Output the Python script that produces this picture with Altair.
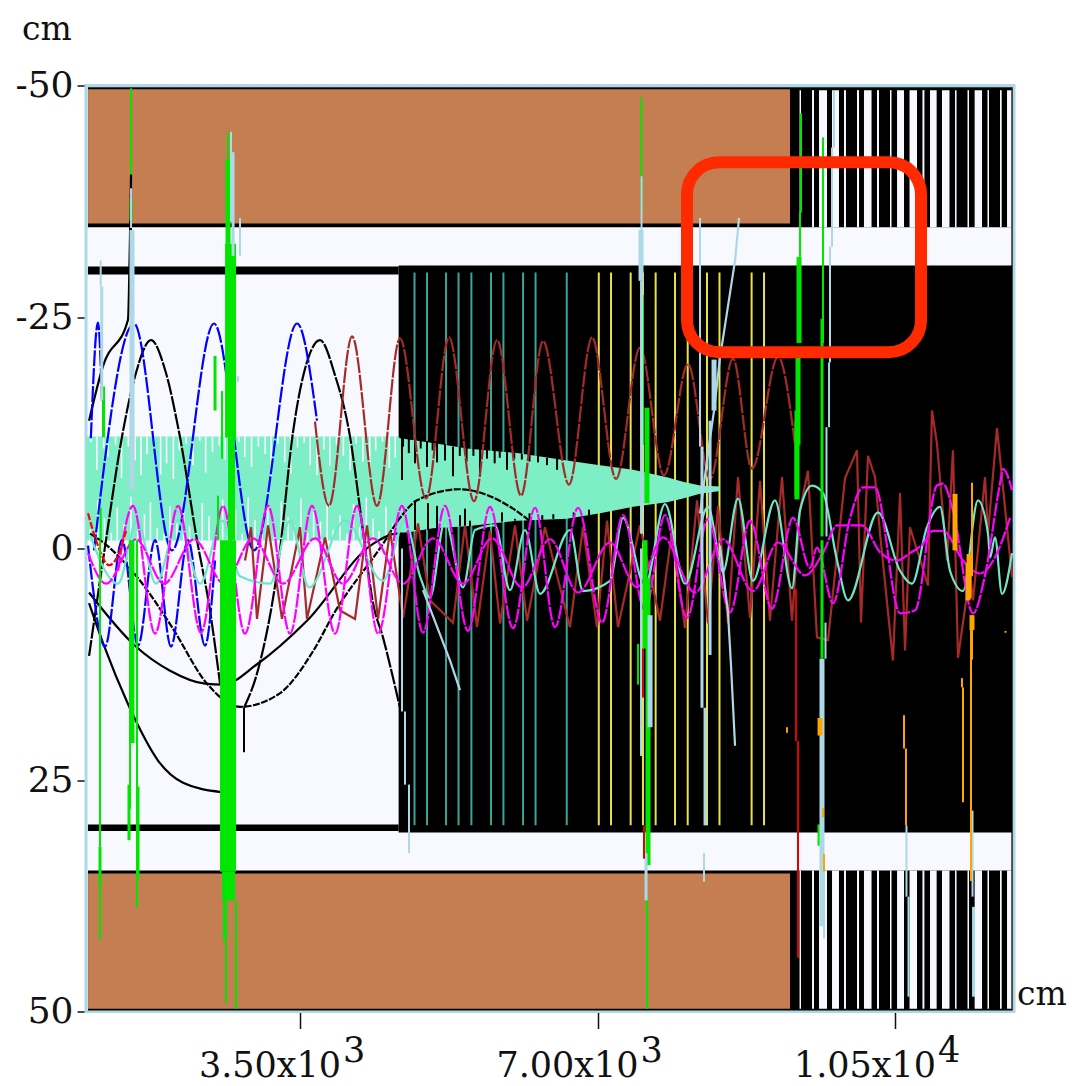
import altair as alt
import pandas as pd

X_DOMAIN = [982, 11900]
Y_DOMAIN = [-50, 50]
X_TICKS = [3500, 7000, 10500]
Y_TICKS = [-50, -25, 0, 25, 50]
TICK_MANTISSA = ["3.50x10", "7.00x10", "1.05x10"]
TICK_EXP = ["3", "3", "4"]

WHITE_GAPS_X0 = [9377, 9524, 9606, 9759, 9900, 10053, 10135, 10288, 10441, 10524, 10671, 10823, 10912, 11053, 11206, 11353, 11437, 11588, 11735, 11818]
WHITE_GAPS_X1 = [9394, 9547, 9700, 9841, 9923, 10077, 10224, 10312, 10459, 10606, 10759, 10846, 10990, 11141, 11224, 11371, 11524, 11606, 11755, 11877]

TEAL_X = [4847, 4994, 5218, 5365, 5516, 5747, 5893, 6124, 6271, 6638]
YELLOW_X = [7015, 7159, 7390, 7535, 7684, 7912, 8061, 8288, 8435, 8813, 8959]

BAND_X = [982, 4653, 4676, 5065, 5465, 6053, 6641, 7029, 7418, 7618, 7818, 8006, 8206, 8441]
BAND_TOP = [-12.1, -12.1, -11.9, -11.4, -10.8, -10.3, -9.5, -9.0, -8.5, -8.1, -7.7, -7.2, -6.8, -6.7]
BAND_BOT = [-0.86, -0.86, -1.6, -2.2, -2.4, -3.0, -3.2, -3.8, -4.5, -4.75, -5.0, -5.4, -5.9, -6.2]

COMB_TOP_X = [1040, 1110, 1190, 1240, 1330, 1400, 1480, 1560, 1630, 1700, 1780, 1860, 1930, 2010, 2080, 2160, 2240, 2320, 2390, 2470, 2550, 2620, 2700, 2780, 2850, 2930, 3010, 3090, 3160, 3240, 3320, 3390, 3470, 3550, 3620, 3700, 3780, 3850, 3930, 4010, 4090, 4160, 4240, 4320, 4390, 4470, 4550, 4620]
COMB_TOP_END = [-11.5, -8.5, -10.8, -9.9, -11.2, -7.6, -11.0, -9.5, -7.9, -10.2, -11.4, -8.0, -9.2, -7.5, -10.6, -11.3, -9.0, -11.6, -8.2, -10.4, -11.1, -9.6, -7.8, -11.5, -9.9, -8.8, -11.0, -10.2, -7.7, -11.3, -9.3, -8.1, -10.9, -11.4, -9.0, -7.9, -10.7, -8.9, -11.2, -10.0, -8.4, -11.3, -9.4, -7.6, -10.6, -11.5, -8.7, -9.8]
COMB_BOT_X = [1030, 1120, 1200, 1280, 1350, 1430, 1510, 1590, 1670, 1740, 1820, 1900, 1970, 2050, 2130, 2200, 2280, 2350, 2430, 2510, 2590, 2660, 2740, 2820, 2890, 2970, 3050, 3120, 3200, 3280, 3360, 3430, 3510, 3590, 3660, 3740, 3820, 3890, 3970, 4050, 4130, 4200, 4280, 4360, 4430, 4510, 4590]
COMB_BOT_END = [-2.1, -5.2, -3.3, -1.7, -4.4, -2.6, -5.6, -1.9, -3.7, -5.0, -2.2, -1.6, -4.6, -3.0, -5.4, -2.4, -1.7, -4.9, -3.5, -1.9, -5.3, -2.8, -4.2, -1.6, -5.5, -3.1, -2.2, -4.7, -1.8, -5.1, -3.4, -2.5, -5.4, -1.7, -4.0, -2.9, -5.2, -2.0, -3.6, -1.6, -4.8, -2.3, -5.5, -3.2, -1.9, -4.5, -2.7]

TOOTH_T_X = [4700, 4712, 4780, 4853, 4920, 4994, 5060, 5112, 5206, 5300, 5380, 5460, 5540, 5618, 5700, 5790, 5850, 5935, 6020, 6110, 6200, 6300, 6406, 6524]
TOOTH_T_Y0 = [-12.0, -12.0, -11.9, -11.8, -11.7, -11.6, -11.5, -11.4, -11.3, -11.0, -11.0, -10.9, -10.8, -10.8, -10.7, -10.6, -10.5, -10.4, -10.3, -10.2, -10.1, -10.0, -9.8, -9.7]
TOOTH_T_Y1 = [-7.4, -11.0, -10.3, -9.2, -10.8, -8.8, -10.6, -9.3, -9.5, -7.8, -10.0, -9.4, -10.0, -7.8, -9.7, -9.2, -9.8, -8.5, -9.7, -9.6, -9.4, -9.3, -9.0, -8.5]
TOOTH_B_X = [4853, 5006, 5112, 5382, 5441, 5500, 5876, 6029, 6200, 6350, 6480, 6720, 6900]
TOOTH_B_Y0 = [-5.2, -4.9, -4.6, -3.6, -4.3, -3.0, -3.9, -3.2, -3.8, -3.6, -3.7, -3.9, -4.2]
TOOTH_B_Y1 = [-2.0, -2.0, -2.0, -2.4, -2.4, -2.4, -2.9, -3.0, -3.0, -3.1, -3.2, -3.3, -3.6]

K1_X = [1018, 1559, 1971, 2382, 2594, 2994, 3582, 4359, 4641, 4829]
K1_Y = [4.75, 10.5, 13.2, 14.6, 14.7, 12.5, 7.8, -0.5, -1.6, -1.6]
K2_X = [1029, 1147, 1594, 1994, 2406, 2794, 3253, 3653, 3900, 4476, 4676, 4876, 5382, 5771, 6006, 6241]
K2_Y = [-1.6, -0.9, 3.2, 8.5, 14.6, 17.1, 15.7, 11.1, 7.0, -0.5, -3.3, -5.2, -6.4, -5.5, -4.3, -2.7]
K3_X = [1018, 1194, 1476, 1594, 1829, 2124, 2571]
K3_Y = [5.9, 10.5, 16.8, 19.1, 22.9, 25.3, 26.3]
K4_X = [1018, 1182, 1476, 1500, 1512]
K4_Y = [-13.8, -19.7, -24.7, -33.9, -40.4]
K5_X = [1018, 1206, 1406, 1559, 1747, 1912, 2076, 2288, 2441, 2559]
K5_Y = [11.6, -0.2, -12.1, -18.6, -22.5, -19.3, -12.6, -0.9, 6.7, 14.6]
K6_X = [2841, 3006, 3253, 3418, 3606, 3735, 3912, 4088, 4229, 4359, 4476, 4676]
K6_Y = [17.2, 13.1, 1.0, -12.6, -20.8, -22.5, -18.7, -12.1, -2.7, 5.9, 9.6, 17.2]
K_SPIKE_X = [1512, 2841]
K_SPIKE_Y0 = [-40.4, 17.2]
K_SPIKE_Y1 = [-34.0, 22.0]

BLUE_A_X = [1076, 1547, 1994, 2488, 2959, 3465, 3700]
BLUE_A_Y = [0.2, -24.3, 0.2, -24.3, 0.2, -24.3, -13.8]
BLUE_B_X = [1006, 1206, 1406, 1594, 1794, 1982, 2182, 2382, 2500]
BLUE_B_Y = [-0.3, 10.6, -0.9, 10.5, -0.9, 10.6, -0.9, 10.5, 1.3]
BLUE_C_X = [1039, 1123, 1170]
BLUE_C_Y = [-11.9, -24.4, -16.0]

BROWN1_X = [3676, 3841, 4112, 4406, 4676, 4982, 5253, 5547, 5818, 6100, 6359, 6665, 6935, 7218, 7500, 7782, 8065, 8324, 8594, 8818, 9124, 9324]
BROWN1_Y = [-13.7, -4.6, -22.9, -4.6, -22.7, -5.4, -22.8, -5.1, -22.5, -5.7, -22.4, -6.9, -22.8, -7.5, -21.7, -7.9, -19.9, -7.5, -20.5, -8.6, -20.7, -11.2]
BROWN2_X = [2853, 2924, 2994, 3124, 3288, 3500, 3582, 3794, 3971, 4147, 4288, 4418, 4559, 4712, 4888, 5029, 5300, 5441, 5582, 5735, 5853, 6029, 6171, 6382, 6676, 6829, 6994, 7112, 7241, 7500, 7735, 7877, 8029, 8171, 8300, 8418, 8535, 8653, 8794, 8912, 9029, 9171, 9288, 9382, 9476, 9582, 9712, 9912, 10053, 10100, 10182, 10265, 10324, 10476, 10559, 10618, 10676, 10888, 10935, 10994, 11112, 11182, 11241, 11382, 11418, 11559, 11594, 11700, 11877]
BROWN2_Y = [1.3, -2.3, 7.6, -2.5, 7.6, -2.3, 7.6, -1.2, 6.7, 7.6, -2.5, 7.6, -1.9, 7.5, -2.7, 5.6, 8.0, -2.5, 8.5, -1.9, 8.1, -2.5, 7.8, -2.3, 8.5, -2.3, 8.5, -3.0, 8.5, -2.5, 7.8, -1.9, 8.6, -5.2, 8.1, -4.6, 8.1, -7.7, 7.5, -7.3, 7.8, -7.7, 7.8, -4.1, -8.4, 9.6, 9.9, -7.6, -10.6, 8.0, -10.0, -7.7, -1.6, 12.1, -6.0, 11.0, -2.3, 4.0, -14.9, -11.3, 1.3, -10.6, 11.8, 2.7, 5.6, -7.7, -1.6, -13.0, 3.1]

AQUA_X = [1029, 1359, 1582, 1806, 2065, 2324, 2582, 2794, 3147, 3382, 3606, 4029, 4476, 4735, 4912, 5029, 5206, 5418, 5559, 5794, 5970, 6147, 6324, 6676, 6829, 7147, 7300, 7559, 7794, 8029, 8300, 8476, 8653, 8829, 9088, 9288, 9382, 9524, 9653, 9818, 9947, 10300, 10559, 10700, 10876, 11029, 11147, 11300, 11476, 11594, 11618, 11676, 11759, 11877]
AQUA_Y = [-1.4, 3.8, -3.0, 3.8, -3.0, 3.8, -3.0, 3.0, 3.8, -3.0, 4.2, -3.0, 3.5, -3.0, 3.0, 5.3, -3.0, 4.2, -2.0, -2.5, 4.5, -2.0, 4.9, -2.0, 4.6, 3.5, -3.3, 4.0, -4.8, 3.8, -4.5, 2.5, -5.4, 3.5, -5.2, 4.3, -4.1, -6.8, -6.0, 1.3, 5.6, -3.9, 2.4, 3.8, -2.3, -4.5, 2.4, 4.6, -5.2, -1.6, 1.0, -1.2, 4.9, 0.5]

MAG1_X = [1359, 1535, 1794, 2065, 2335, 2594, 2853, 3124, 3382, 3641, 3912, 4171, 4418, 4700, 4947, 5206, 5476, 5735, 6006, 6265, 6500, 6771, 7053, 7300, 7559, 7794, 8053, 8300, 8559, 8794, 9053, 9300, 9500, 9582, 9771, 9971, 10124, 10265, 10559, 10735, 10994, 11065, 11182, 11418, 11559, 11735, 11771, 11877]
MAG1_Y = [2.4, -4.6, 9.2, -4.6, 9.1, -4.6, 9.2, -4.6, 9.2, -4.6, 9.2, -4.6, 9.2, -4.6, 9.1, -4.6, 8.9, -4.5, 8.6, -4.4, 8.5, -4.4, 8.0, -3.6, 6.7, -3.6, 7.5, -3.2, 6.9, -3.0, 6.5, -3.3, 2.1, -0.1, 5.9, -3.3, -6.6, -6.6, 7.0, 6.7, -6.8, -7.0, -4.1, 7.0, 2.9, -7.0, -8.6, -6.3]
MAG2_X = [1006, 1218, 1571, 1900, 2253, 2606, 2947, 3300, 3676, 4006, 4359, 4712, 5065, 5418, 5759, 6112, 6441, 6771, 7147, 7465, 7771, 8147, 8476, 8829, 9124, 9441, 9653, 9818, 10112, 10324, 10524, 10676, 10829, 10947, 11065, 11300, 11500, 11700, 11853]
MAG2_Y = [0.5, 3.8, -1.0, 3.8, -1.0, 3.8, -1.1, 3.8, -1.1, 3.8, -1.1, 3.8, -1.1, 3.8, -1.1, 4.2, -1.0, 4.75, -0.65, 4.2, -1.2, 4.75, -1.0, 4.6, -0.65, 2.9, 0.5, -2.5, -2.5, 0.4, 1.3, 0.5, -0.5, -1.9, -1.9, 1.3, 2.7, 0.5, -3.3]

RED_CURVE_X = [1006, 1100, 1253, 1370, 1453]
RED_CURVE_Y = [-3.8, -0.9, 1.8, 0.5, -1.9]

LB1_X = [8206, 8312, 8371, 8441, 8500, 8618, 8665]
LB1_Y = [-3.8, -11.1, -14.9, -20.6, -24.1, -31.1, -35.7]
LB2_X = [4947, 5265, 5382]
LB2_Y = [4.5, 12.1, 15.3]
LB3_X = [8441, 8535, 8571, 8618]
LB3_Y = [-0.3, 6.9, 12.7, 21.3]

GREEN_W2_X = [1512, 1535, 1500, 1582, 1155, 1147, 1147, 2653, 2535, 2582, 2606, 2629, 2747, 7518, 7535, 7582, 7477, 9394, 9382, 9653]
GREEN_W2_Y0 = [-49.7, -27.2, -0.9, -0.9, -4.4, -0.9, 36.4, -45.0, -5.7, -17.0, 38.0, 38.0, 38.0, -48.7, -27.4, 37.8, 10.3, -47.0, -36.3, -44.4]
GREEN_W2_Y1 = [-40.4, -12.0, 28.1, 38.8, -0.9, 32.2, 42.3, -32.9, -0.9, -9.7, 42.3, 49.1, 49.7, -36.3, -11.2, 49.7, 14.7, -36.3, -31.5, -22.2]
GREEN_W3_X = [1188, 1147, 1488, 1512, 1594, 2500, 9335, 9641, 9641, 9606]
GREEN_W3_Y0 = [-17.5, 32.2, 25.5, -37.8, 25.7, -20.8, -14.9, -24.8, -0.9, 29.8]
GREEN_W3_Y1 = [-12.0, 36.4, 31.5, -35.4, 35.6, -14.9, -5.6, -1.3, 11.9, 32.1]
GREEN_W5_X = [2653, 7582, 9359, 9347, 7559, 7594, 9371, 1523]
GREEN_W5_Y0 = [-42.0, -15.2, -20.8, -13.8, -0.9, 3.2, -31.5, -0.9]
GREEN_W5_Y1 = [-32.9, -4.9, -11.2, -5.3, 10.8, 34.2, -22.2, 21.0]
GREEN_BIG_X0 = [2618, 2653, 2559, 2582]
GREEN_BIG_X1 = [2747, 2735, 2747, 2735]
GREEN_BIG_Y0 = [-32.9, -12.0, -0.9, 34.9]
GREEN_BIG_Y1 = [-12.0, -0.9, 34.9, 38.0]

LBLUE_W2_X = [1155, 1512, 2688, 2794, 2771, 7518, 7512, 8206, 8253, 9782, 9759, 9735, 9724, 9694, 9665, 9682, 10635, 10659, 11412, 4700, 4735, 4782]
LBLUE_W2_Y0 = [-31.1, -38.9, -45.0, -35.7, -18.6, -40.2, 0.0, -35.7, 32.9, -49.4, -43.3, -32.6, -20.1, -13.1, 34.2, 8.0, 29.9, 37.6, 28.3, 0.0, 17.6, 25.5]
LBLUE_W2_Y1 = [-28.3, -34.6, -35.3, -31.6, -18.0, -34.4, 22.4, -11.0, 36.0, -43.3, -32.6, -20.1, -13.1, -1.3, 42.1, 11.9, 37.6, 48.4, 37.6, 17.6, 25.5, 32.9]
LBLUE_W3_X = [1167, 2712, 7518, 7571, 8229, 8265, 8324, 11424]
LBLUE_W3_Y0 = [-28.3, -42.8, -28.9, 32.9, -11.0, 17.2, -13.8, 38.7]
LBLUE_W3_Y1 = [-16.0, -31.6, -1.6, 38.0, 17.2, 29.9, 11.5, 48.4]
LBLUE_W5_X = [1523, 7512, 7618, 9641, 8371]
LBLUE_W5_Y0 = [-34.4, -34.4, 7.2, 11.9, -20.4]
LBLUE_W5_Y1 = [-6.3, -28.9, 19.3, 40.8, -14.9]

RED_X = [9335, 9359, 7535, 7547]
RED_Y0 = [4.4, 20.8, 10.8, 29.9]
RED_Y1 = [20.8, 44.2, 16.1, 33.5]

ORANGE_W2_X = [10606, 10629, 11288, 11300, 11394, 11406, 11406, 9229, 11800, 9653, 9665]
ORANGE_W2_Y0 = [18.0, 21.6, 14.0, 15.0, 8.8, -7.1, 7.2, 19.3, 8.9, 28.0, 33.0]
ORANGE_W2_Y1 = [21.6, 29.9, 15.0, 27.4, 35.9, 3.0, 12.0, 19.9, 9.1, 29.0, 34.9]
ORANGE_W5_X = [11206, 11359, 11371, 11406, 9618]
ORANGE_W5_Y0 = [-5.9, 1.6, 0.6, 7.2, 18.3]
ORANGE_W5_Y1 = [0.2, 5.6, 5.4, 8.8, 20.2]

ANNOT = dict(x0=8053, x1=10806, y0=-41.7, y1=-21.2)

sx = alt.Scale(domain=X_DOMAIN, nice=False, zero=False)
sy = alt.Scale(domain=Y_DOMAIN, nice=False, zero=False, reverse=True)


def rect_layer(x0, x1, y0, y1, **mark):
    df = pd.DataFrame({"x0": x0, "x1": x1, "y0": y0, "y1": y1})
    return alt.Chart(df).mark_rect(**mark).encode(
        x=alt.X("x0:Q", scale=sx, title=None),
        x2="x1:Q",
        y=alt.Y("y0:Q", scale=sy, title=None),
        y2="y1:Q",
    )


def rule_layer(x, y0, y1, color, width):
    df = pd.DataFrame({"x": x, "y0": y0, "y1": y1})
    return alt.Chart(df).mark_rule(color=color, strokeWidth=width).encode(
        x=alt.X("x:Q", scale=sx, title=None),
        y=alt.Y("y0:Q", scale=sy, title=None),
        y2="y1:Q",
    )


def line_layer(x, y, color, width=2.2, curve="monotone", dash=None):
    df = pd.DataFrame({"x": x, "y": y})
    kw = dict(color=color, strokeWidth=width, interpolate=curve)
    if dash:
        kw["strokeDash"] = dash
    return alt.Chart(df).mark_line(**kw).encode(
        x=alt.X("x:Q", scale=sx, title=None),
        y=alt.Y("y:Q", scale=sy, title=None),
    )


GHOST = "#f8f8ff"
BROWN_FILL = "#c57e52"
BAND = "#7deec6"
GREEN = "#00e600"
LBLUE = "#add8e6"
ORANGE = "#ffa500"
FONT = "DejaVu Serif"

bg = alt.Chart(pd.DataFrame({"x0": [X_DOMAIN[0]], "x1": [X_DOMAIN[1]], "y0": [Y_DOMAIN[0]], "y1": [Y_DOMAIN[1]]})).mark_rect(
    fill=GHOST, stroke=LBLUE, strokeWidth=3
).encode(
    x=alt.X("x0:Q", scale=sx, title=None, axis=alt.Axis(values=X_TICKS, labels=False, tickSize=17, tickWidth=1.5, tickColor="#111", domain=False, grid=False)),
    x2="x1:Q",
    y=alt.Y("y0:Q", scale=sy, title=None, axis=alt.Axis(values=Y_TICKS, tickSize=9, tickWidth=1.5, tickColor="#111", domain=False, grid=False,
                                                       labelFont=FONT, labelFontSize=36, labelColor="#111", labelPadding=4, labelExpr="''+datum.value", labelOverlap=False)),
    y2="y1:Q",
)

layers = [bg]
layers.append(rect_layer([1005, 1005], [11877, 11877], [-49.8, 34.77], [-34.7, 49.9], fill="#000"))
layers.append(rect_layer([1006, 1006], [9265, 9265], [-49.6, 35.1], [-35.1, 49.7], fill=BROWN_FILL))
layers.append(rect_layer(WHITE_GAPS_X0, WHITE_GAPS_X1, [-49.5] * len(WHITE_GAPS_X0), [-34.7] * len(WHITE_GAPS_X0), fill=GHOST))
layers.append(rect_layer(WHITE_GAPS_X0, WHITE_GAPS_X1, [34.77] * len(WHITE_GAPS_X0), [49.7] * len(WHITE_GAPS_X0), fill=GHOST))
layers.append(rule_layer([11877], [-49.8], [49.9], "#222", 1.5))
layers.append(rect_layer([1005, 1005, 4660], [4660, 4660, 11877], [-30.45, 29.8, -30.56], [-29.6, 30.5, 30.67], fill="#000"))
layers.append(rule_layer(TEAL_X, [-29.8] * len(TEAL_X), [29.9] * len(TEAL_X), "#3aa597", 2))
layers.append(rule_layer(YELLOW_X, [-29.8] * len(YELLOW_X), [29.9] * len(YELLOW_X), "#e8e24a", 2))
band_df = pd.DataFrame({"x": BAND_X, "top": BAND_TOP, "bot": BAND_BOT})
layers.append(alt.Chart(band_df).mark_area(color=BAND, opacity=1).encode(
    x=alt.X("x:Q", scale=sx, title=None),
    y=alt.Y("top:Q", scale=sy, title=None),
    y2="bot:Q",
))
layers.append(rule_layer(COMB_TOP_X, [-12.1] * len(COMB_TOP_X), COMB_TOP_END, GHOST, 1.6))
layers.append(rule_layer(COMB_BOT_X, COMB_BOT_END, [-0.86] * len(COMB_BOT_X), GHOST, 1.6))
layers.append(rule_layer(TOOTH_T_X, TOOTH_T_Y0, TOOTH_T_Y1, "#000", 2))
layers.append(rule_layer(TOOTH_B_X, TOOTH_B_Y0, TOOTH_B_Y1, "#000", 2))
for kx, ky in [(K1_X, K1_Y), (K3_X, K3_Y), (K4_X, K4_Y)]:
    layers.append(line_layer(kx, ky, "#000"))
layers.append(line_layer(K2_X, K2_Y, "#000", dash=[7, 1.5]))
for kx, ky in [(K5_X, K5_Y), (K6_X, K6_Y)]:
    layers.append(line_layer(kx, ky, "#000", dash=[16, 1.5]))
layers.append(rule_layer(K_SPIKE_X, K_SPIKE_Y0, K_SPIKE_Y1, "#000", 2))
layers.append(line_layer(BLUE_A_X, BLUE_A_Y, "#0000ff", dash=[16, 2]))
layers.append(line_layer(BLUE_B_X, BLUE_B_Y, "#0000ff", dash=[16, 2]))
layers.append(line_layer(BLUE_C_X, BLUE_C_Y, "#0000ff", dash=[16, 2]))
layers.append(line_layer(BROWN1_X, BROWN1_Y, "#a52a2a", dash=[16, 1.5]))
layers.append(line_layer(BROWN2_X, BROWN2_Y, "#a52a2a", curve="linear"))
layers.append(line_layer(AQUA_X, AQUA_Y, "#70e6c6"))
layers.append(line_layer(MAG1_X, MAG1_Y, "#ff00ff", dash=[14, 1.5]))
layers.append(line_layer(MAG2_X, MAG2_Y, "#ff00ff", dash=[14, 1.5]))
layers.append(line_layer(RED_CURVE_X, RED_CURVE_Y, "#ff0000", dash=[7, 2]))
layers.append(rule_layer(GREEN_W2_X, GREEN_W2_Y0, GREEN_W2_Y1, GREEN, 2))
layers.append(rule_layer(GREEN_W3_X, GREEN_W3_Y0, GREEN_W3_Y1, GREEN, 3))
layers.append(rule_layer(GREEN_W5_X, GREEN_W5_Y0, GREEN_W5_Y1, GREEN, 5))
layers.append(rect_layer(GREEN_BIG_X0, GREEN_BIG_X1, GREEN_BIG_Y0, GREEN_BIG_Y1, fill=GREEN))
layers.append(line_layer(LB1_X, LB1_Y, LBLUE, curve="linear"))
layers.append(line_layer(LB2_X, LB2_Y, LBLUE, curve="linear"))
layers.append(line_layer(LB3_X, LB3_Y, LBLUE, curve="linear"))
layers.append(rule_layer(LBLUE_W2_X, LBLUE_W2_Y0, LBLUE_W2_Y1, LBLUE, 2))
layers.append(rule_layer(LBLUE_W3_X, LBLUE_W3_Y0, LBLUE_W3_Y1, LBLUE, 3))
layers.append(rule_layer(LBLUE_W5_X, LBLUE_W5_Y0, LBLUE_W5_Y1, LBLUE, 5))
layers.append(rule_layer(RED_X, RED_Y0, RED_Y1, "#e00000", 2))
layers.append(rule_layer(ORANGE_W2_X, ORANGE_W2_Y0, ORANGE_W2_Y1, ORANGE, 2))
layers.append(rule_layer(ORANGE_W5_X, ORANGE_W5_Y0, ORANGE_W5_Y1, ORANGE, 5))
layers.append(rect_layer([ANNOT["x0"]], [ANNOT["x1"]], [ANNOT["y0"]], [ANNOT["y1"]], fillOpacity=0, stroke="#ff2a00", strokeWidth=12, cornerRadius=32))

tick_df = pd.DataFrame({"x": X_TICKS, "y": [Y_DOMAIN[1]] * 3, "m": TICK_MANTISSA, "e": TICK_EXP})
enc = dict(x=alt.X("x:Q", scale=sx, title=None), y=alt.Y("y:Q", scale=sy, title=None))
layers.append(alt.Chart(tick_df).mark_text(font=FONT, fontSize=35, color="#111", align="center", baseline="alphabetic", dx=-30, dy=65).encode(text="m:N", **enc))
layers.append(alt.Chart(tick_df).mark_text(font=FONT, fontSize=35, color="#111", align="left", baseline="alphabetic", dx=43, dy=50).encode(text="e:N", **enc))
unit_top = pd.DataFrame({"x": [X_DOMAIN[0]], "y": [Y_DOMAIN[0]], "t": ["cm"]})
unit_right = pd.DataFrame({"x": [X_DOMAIN[1]], "y": [Y_DOMAIN[1]], "t": ["cm"]})
layers.append(alt.Chart(unit_top).mark_text(font=FONT, fontSize=33, color="#111", align="center", baseline="alphabetic", dx=-39, dy=-46).encode(text="t:N", **enc))
layers.append(alt.Chart(unit_right).mark_text(font=FONT, fontSize=33, color="#111", align="left", baseline="alphabetic", dx=3, dy=-7).encode(text="t:N", **enc))

chart = alt.layer(*layers).properties(
    width=928,
    height=926,
    padding={"left": 78, "top": 77.5, "right": 54, "bottom": 74},
    autosize=alt.AutoSizeParams(type="none"),
    background="white",
).configure_view(stroke=None)

chart.save("out.html", embed_options={"renderer": "svg", "actions": False})
